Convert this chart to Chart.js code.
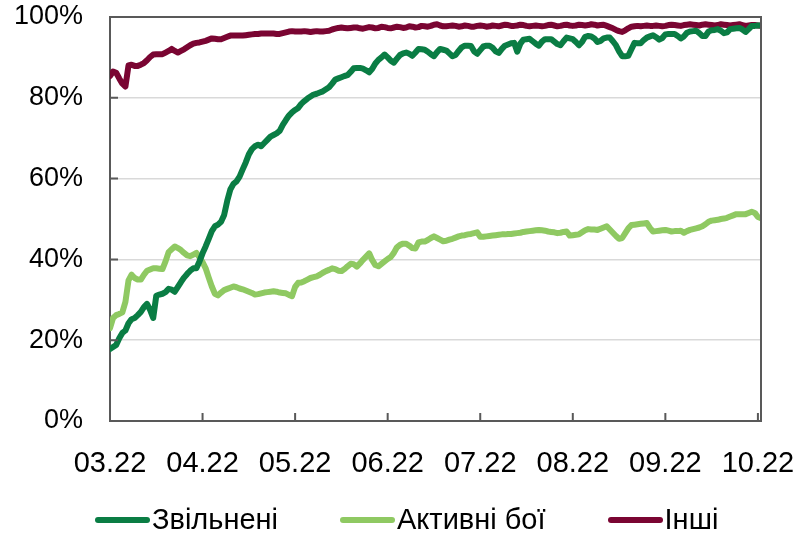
<!DOCTYPE html>
<html>
<head>
<meta charset="utf-8">
<script src="https://cdn.jsdelivr.net/npm/chart.js@4/dist/chart.umd.min.js"></script>
<style>
  html, body { margin: 0; padding: 0; background: #fff; }
  .wrap { position: relative; width: 794px; height: 537px; }
  .legend {
    position: absolute; left: 95px; top: 503px;
    display: flex; gap: 62px;
    font: 29px "Liberation Sans", Arial, sans-serif; color: #000;
  }
  .legend span { display: flex; align-items: center; }
  .legend i { display: inline-block; width: 55px; height: 6px; border-radius: 3px; margin-right: 2px; }
</style>
</head>
<body>
<div class="wrap">
  <canvas id="myChart" width="794" height="537"></canvas>
  <div class="legend" id="legend"></div>
</div>
<script>
// daily share, % (day 0 = 1 March 2022)
const zvilneni = [
  17.8, 18.3, 18.8, 20.5, 21.8, 22.4, 24.2, 25.2, 25.5, 26.2,
  27.0, 28.2, 29.0, 27.5, 25.5, 31.0, 31.3, 31.5, 31.9, 32.7,
  32.5, 32.0, 33.2, 34.4, 35.5, 36.4, 37.2, 37.8, 37.8, 39.5,
  41.5, 43.2, 45.1, 47.0, 48.2, 48.6, 49.3, 51.0, 54.5, 57.3,
  58.7, 59.3, 60.5, 62.3, 64.0, 66.0, 67.3, 68.0, 68.4, 68.0,
  68.8, 69.6, 70.4, 70.8, 71.2, 71.8, 73.3, 74.5, 75.6, 76.4,
  77.0, 77.5, 78.5, 79.2, 79.8, 80.3, 80.8, 81.0, 81.3, 81.6,
  82.1, 82.6, 83.5, 84.5, 84.8, 85.1, 85.4, 85.6, 86.4, 87.3,
  87.4, 87.4, 87.2, 86.8, 86.3, 87.2, 88.5, 89.4, 90.0, 90.7,
  90.0, 89.2, 88.7, 89.7, 90.6, 91.0, 91.2, 90.9, 90.4, 91.2,
  92.1, 92.0, 91.9, 91.4, 90.8, 90.3, 91.3, 92.1, 91.9, 91.7,
  91.0, 90.3, 90.6, 91.6, 92.5, 92.9, 92.9, 92.8, 91.5, 90.9,
  91.8, 92.7, 92.9, 92.9, 92.4, 91.5, 91.1, 92.1, 92.9, 93.2,
  93.5, 93.6, 91.4, 93.4, 94.4, 94.5, 94.6, 94.0, 93.4, 92.9,
  93.9, 94.5, 94.5, 94.5, 93.9, 93.3, 93.0, 94.0, 94.9, 94.7,
  94.5, 93.8, 93.0, 93.8, 95.1, 95.3, 95.2, 94.7, 93.8, 94.1,
  94.7, 94.9, 94.9, 94.0, 93.0, 91.5, 90.3, 90.3, 90.4, 92.0,
  93.6, 93.5, 93.5, 94.3, 94.9, 95.2, 95.5, 95.0, 94.4, 94.8,
  95.7, 95.8, 95.8, 95.8, 95.3, 94.7, 95.2, 96.1, 96.4, 96.5,
  96.6, 96.0, 95.3, 95.3, 96.4, 96.7, 96.8, 97.0, 96.6, 96.0,
  96.2, 97.0, 97.1, 97.2, 97.3, 96.9, 96.3, 97.0, 97.8, 97.8,
  97.9, 97.9
]
const aktyvniBoi = [
  23.0, 25.5, 26.2, 26.5, 26.9, 29.5, 34.8, 36.2, 35.4, 35.0,
  35.0, 36.2, 37.2, 37.5, 37.8, 37.8, 37.7, 37.6, 39.5, 41.8,
  42.5, 43.2, 42.8, 42.3, 41.6, 41.0, 40.8, 41.2, 41.6, 40.5,
  39.3, 37.8, 35.5, 33.3, 31.5, 31.1, 31.8, 32.4, 32.7, 33.0,
  33.3, 33.1, 32.8, 32.6, 32.3, 32.0, 31.7, 31.3, 31.4, 31.6,
  31.8, 31.9, 32.0, 32.1, 32.0, 31.8, 31.7, 31.6, 31.2, 30.9,
  33.2, 34.2, 34.3, 34.6, 35.0, 35.4, 35.6, 35.8, 36.2, 36.7,
  37.1, 37.4, 37.8, 37.6, 37.2, 37.1, 37.6, 38.3, 38.9, 38.8,
  38.2, 39.0, 39.9, 40.7, 41.5, 39.8, 38.6, 38.3, 38.9, 39.5,
  40.1, 40.6, 41.6, 43.0, 43.6, 43.9, 43.9, 43.4, 42.8, 42.7,
  44.2, 44.4, 44.4, 44.8, 45.3, 45.7, 45.3, 44.9, 44.5, 44.6,
  44.9, 45.1, 45.4, 45.7, 45.9, 46.0, 46.2, 46.3, 46.5, 46.7,
  45.6, 45.6, 45.7, 45.8, 45.9, 46.0, 46.1, 46.2, 46.2, 46.3,
  46.3, 46.4, 46.5, 46.6, 46.8, 46.9, 47.0, 47.1, 47.2, 47.3,
  47.2, 47.1, 46.9, 46.8, 46.7, 46.5, 46.6, 46.8, 46.9, 45.9,
  46.0, 46.1, 46.2, 46.7, 47.2, 47.5, 47.4, 47.4, 47.3, 47.6,
  47.9, 48.2, 47.4, 46.6, 45.8, 45.1, 45.3, 46.5, 47.7, 48.5,
  48.6, 48.7, 48.8, 48.9, 49.0, 47.8, 46.9, 47.0, 47.1, 47.2,
  47.3, 47.1, 46.9, 47.0, 47.0, 47.1, 46.6, 47.0, 47.3, 47.5,
  47.7, 47.9, 48.2, 48.7, 49.3, 49.6, 49.7, 49.8, 50.0, 50.1,
  50.3, 50.6, 50.9, 51.2, 51.2, 51.2, 51.2, 51.5, 51.8, 51.5,
  50.5, 50.2
]
const inshi = [
  85.4, 86.5, 86.2, 84.8, 83.5, 82.8, 88.0, 88.2, 87.9, 87.9,
  88.2, 88.6, 89.3, 90.1, 90.7, 90.8, 90.8, 90.8, 91.2, 91.6,
  92.1, 91.6, 91.2, 91.6, 92.0, 92.5, 93.0, 93.4, 93.6, 93.7,
  93.9, 94.1, 94.4, 94.7, 94.6, 94.5, 94.5, 94.8, 95.1, 95.4,
  95.4, 95.4, 95.4, 95.4, 95.5, 95.6, 95.7, 95.8, 95.8, 95.9,
  95.9, 95.9, 95.9, 95.9, 95.8, 95.8, 96.0, 96.2, 96.4, 96.5,
  96.4, 96.4, 96.4, 96.5, 96.4, 96.3, 96.4, 96.5, 96.4, 96.4,
  96.5, 96.6, 96.9, 97.1, 97.3, 97.4, 97.3, 97.2, 97.3, 97.4,
  97.4, 97.2, 97.1, 97.3, 97.5, 97.4, 97.2, 97.3, 97.6, 97.5,
  97.3, 97.2, 97.4, 97.6, 97.5, 97.3, 97.4, 97.7, 97.6, 97.4,
  97.5, 97.8, 97.7, 97.6, 97.8, 98.1, 98.2, 97.9, 97.7, 97.7,
  97.8, 97.9, 97.8, 97.6, 97.7, 97.9, 97.8, 97.6, 97.6, 97.8,
  97.9, 97.8, 97.6, 97.7, 97.9, 97.8, 97.7, 97.9, 98.1, 98.0,
  97.8, 97.8, 97.9, 98.1, 98.0, 97.8, 97.7, 97.8, 97.9, 97.8,
  97.7, 97.8, 98.0, 98.1, 97.9, 97.7, 97.8, 98.0, 98.1, 97.9,
  97.8, 97.9, 98.1, 98.0, 97.9, 98.0, 98.2, 98.1, 97.9, 98.0,
  98.1, 97.8, 97.5, 97.2, 96.8, 96.5, 96.3, 96.7, 97.2, 97.6,
  97.7, 97.8, 97.7, 97.8, 97.9, 97.8, 97.8, 97.9, 97.8, 97.7,
  97.8, 98.0, 98.1, 98.0, 97.9, 97.8, 98.0, 98.1, 98.2, 98.1,
  98.0, 97.9, 98.1, 98.2, 98.1, 98.0, 97.9, 98.0, 98.2, 98.1,
  98.0, 97.9, 98.0, 98.1, 98.2, 98.0, 97.8, 97.9, 98.0, 98.0,
  97.9, 97.8
]
const seriesNames = ["Звільнені", "Активні бої", "Інші"]
const seriesColors = ["#0a7d44", "#8fc962", "#7a0532"]
const tickLabels = ["03.22", "04.22", "05.22", "06.22", "07.22", "08.22", "09.22", "10.22"]
const tickStep = 30 // days between month labels
const days = zvilneni.map((_, i) => i)

const fontFamily = '"Liberation Sans", Arial, sans-serif'
const axisColor = "#595959"

// frame on top/right + short inner tick marks
const framePlugin = {
  id: "frame",
  afterDraw(chart) {
    const { ctx, chartArea: a, scales } = chart
    ctx.save()
    ctx.strokeStyle = axisColor
    ctx.lineWidth = 2
    ctx.beginPath()
    ctx.moveTo(a.left, a.top)
    ctx.lineTo(a.right, a.top)
    ctx.lineTo(a.right, a.bottom)
    scales.y.ticks.forEach((t) => {
      const y = scales.y.getPixelForValue(t.value)
      ctx.moveTo(a.left, y)
      ctx.lineTo(a.left + 8, y)
    })
    scales.x.ticks.forEach((t) => {
      const x = scales.x.getPixelForValue(t.value)
      ctx.moveTo(x, a.bottom)
      ctx.lineTo(x, a.bottom - 8)
    })
    ctx.stroke()
    ctx.restore()
  },
}

const data = {
  labels: days,
  datasets: [zvilneni, aktyvniBoi, inshi].map((values, i) => ({
    label: seriesNames[i],
    data: values,
    borderColor: seriesColors[i],
    backgroundColor: seriesColors[i],
    borderWidth: 6,
    pointRadius: 0,
    tension: 0,
    borderJoinStyle: "round",
    borderCapStyle: "round",
  })),
}

const config = {
  type: "line",
  data: data,
  options: {
    responsive: false,
    animation: false,
    layout: { padding: { top: 17, right: 33, left: 0, bottom: 0 } },
    plugins: { legend: { display: false }, tooltip: { enabled: false } },
    scales: {
      x: {
        type: "linear",
        min: 0,
        max: days.length - 1,
        afterBuildTicks: (scale) => {
          scale.ticks = tickLabels.map((_, i) => ({ value: i * tickStep }))
        },
        afterFit: (scale) => {
          scale.height = 116
          scale.paddingLeft = 0
          scale.paddingRight = 0
        },
        grid: { display: false, drawTicks: false },
        border: { display: true, color: axisColor, width: 2 },
        ticks: {
          autoSkip: false,
          maxRotation: 0,
          padding: 26,
          color: "#000",
          font: { family: fontFamily, size: 29 },
          callback: (value) => tickLabels[Math.round(value / tickStep)],
        },
      },
      y: {
        min: 0,
        max: 100,
        afterFit: (scale) => {
          scale.width = 110
          scale.paddingTop = 0
          scale.paddingBottom = 0
        },
        grid: {
          drawTicks: false,
          lineWidth: 1.5,
          color: (c) => (c.tick.value === 0 || c.tick.value === 100 ? "rgba(0,0,0,0)" : "#d9d9d9"),
        },
        border: { display: true, color: axisColor, width: 2 },
        ticks: {
          stepSize: 20,
          padding: 27,
          color: "#000",
          font: { family: fontFamily, size: 27 },
          callback: (value) => value + "%",
        },
      },
    },
  },
  plugins: [framePlugin],
}

new Chart(document.getElementById("myChart"), config)

const $legend = document.getElementById("legend")
let html = ""
seriesNames.forEach((name, i) => {
  html += `<span><i style="background:${seriesColors[i]}"></i>${name}</span>`
})
$legend.innerHTML = html
</script>
</body>
</html>
